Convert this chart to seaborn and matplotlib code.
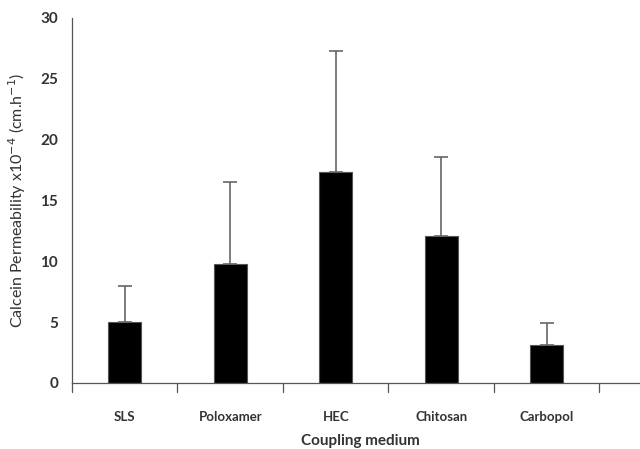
import numpy as np
import pandas as pd
import matplotlib
matplotlib.use('Agg')
import matplotlib.pyplot as plt
import seaborn as sns

# 数据: 各耦合介质的钙黄绿素渗透率 (均值 + 上方误差)
media = ['SLS', 'Poloxamer', 'HEC', 'Chitosan', 'Carbopol']
permeability = [5.0, 9.8, 17.3, 12.1, 3.1]
std_dev = [3.0, 6.7, 10.0, 6.5, 1.8]

sns.set_theme(style='white')
plt.rcParams['font.family'] = ['Lato', 'DejaVu Sans']

df = pd.DataFrame({'medium': media, 'perm': permeability})

fig = plt.figure(figsize=(6.4, 4.49), dpi=100)
ax = fig.add_axes([0.1125, 0.147, 0.9, 0.813])

sns.barplot(data=df, x='medium', y='perm', color='black', width=0.31,
            edgecolor='#555555', linewidth=0.8, saturation=1, ax=ax)

x = np.arange(len(media))
ax.errorbar(x, permeability, yerr=[np.zeros(len(media)), std_dev],
            fmt='none', ecolor='#666666', elinewidth=1.2, capsize=5, capthick=1.2)

ax.set_ylim(0, 30)
ax.set_yticks(range(0, 31, 5))
ax.set_xlim(-0.5, 4.96)

# x轴刻度放在类别之间
ax.set_xticks(x)
ax.tick_params(axis='x', length=0, pad=20, labelsize=9.5)
for b in np.arange(-0.5, 5.0, 1.0):
    ax.axvline(b, ymin=-0.025, ymax=0, color='#555555', lw=0.9, clip_on=False)
ax.tick_params(axis='y', direction='inout', length=8, width=0.9, color='#555555',
               labelsize=11, pad=6)
for lbl in ax.get_xticklabels() + ax.get_yticklabels():
    lbl.set_fontweight('bold')
    lbl.set_color('#333333')

for s in ['top', 'right']:
    ax.spines[s].set_visible(False)
for s in ['left', 'bottom']:
    ax.spines[s].set_color('#555555')
    ax.spines[s].set_linewidth(0.9)

ax.set_xlabel('Coupling medium', fontsize=11, fontweight='bold', color='#333333', labelpad=8)
ax.set_ylabel('Calcein Permeability x10$^{-4}$ (cm.h$^{-1}$)', fontsize=11.5,
              color='#333333', labelpad=9)

plt.savefig('out.png', dpi=100)
